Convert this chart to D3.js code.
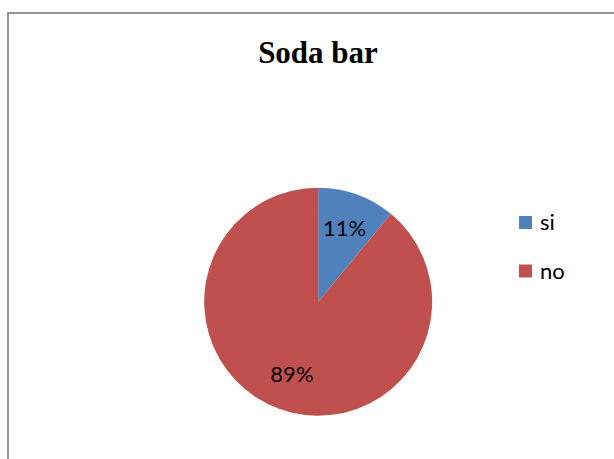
<!DOCTYPE html>
<html>
<head>
<meta charset="utf-8">
<script src="https://cdn.jsdelivr.net/npm/d3@7/dist/d3.min.js"></script>
<style>
  html, body { margin: 0; padding: 0; background: #fff; }
  svg { display: block; }
</style>
</head>
<body>
<svg id="chart" width="614" height="459"></svg>
<script>
// Survey answers for "Soda bar"
const categories = ["si", "no"];
const values = [11, 89];
const colors = ["#4F81BD", "#C0504D"];
const title = "Soda bar";

const svg = d3.select("#chart");
const W = 614, H = 459;

// chart frame (extends past the right and bottom edges)
svg.append("rect")
  .attr("x", 8).attr("y", 13)
  .attr("width", W + 20).attr("height", H + 20)
  .attr("fill", "#fff")
  .attr("stroke", "#878787")
  .attr("stroke-width", 1.75);

svg.append("text")
  .attr("x", 318).attr("y", 63)
  .attr("text-anchor", "middle")
  .attr("font-family", "'Liberation Serif', 'Times New Roman', serif")
  .attr("font-weight", "bold")
  .attr("font-size", 31)
  .attr("fill", "#000")
  .text(title);

const cx = 318.2, cy = 301.7, r = 114;
const pie = d3.pie().sort(null).value(d => d)(values);
const arc = d3.arc().innerRadius(0).outerRadius(r);
const labelArc = d3.arc().innerRadius(r * 0.68).outerRadius(r * 0.68);

const g = svg.append("g").attr("transform", `translate(${cx},${cy})`);
g.selectAll("path.slice")
  .data(pie)
  .join("path")
  .attr("class", "slice")
  .attr("d", arc)
  .attr("fill", (d, i) => colors[i]);

const total = d3.sum(values);
g.selectAll("text.lbl")
  .data(pie)
  .join("text")
  .attr("class", "lbl")
  .attr("transform", d => {
    const [x, y] = labelArc.centroid(d);
    return `translate(${x},${y})`;
  })
  .attr("text-anchor", "middle")
  .attr("dy", "0.35em")
  .attr("font-family", "Lato, 'Open Sans', sans-serif")
  .attr("font-size", 22)
  .attr("fill", "#000")
  .text(d => Math.round(d.data / total * 100) + "%");

// legend
const legend = svg.append("g").attr("transform", "translate(519,216)");
const item = legend.selectAll("g.item")
  .data(categories)
  .join("g")
  .attr("class", "item")
  .attr("transform", (d, i) => `translate(0,${i * 48.5})`);
item.append("rect")
  .attr("width", 13).attr("height", 13)
  .attr("fill", (d, i) => colors[i]);
item.append("text")
  .attr("x", 21).attr("y", 14)
  .attr("font-family", "Lato, 'Open Sans', sans-serif")
  .attr("font-size", 22)
  .attr("fill", "#000")
  .text(d => d);
</script>
</body>
</html>
